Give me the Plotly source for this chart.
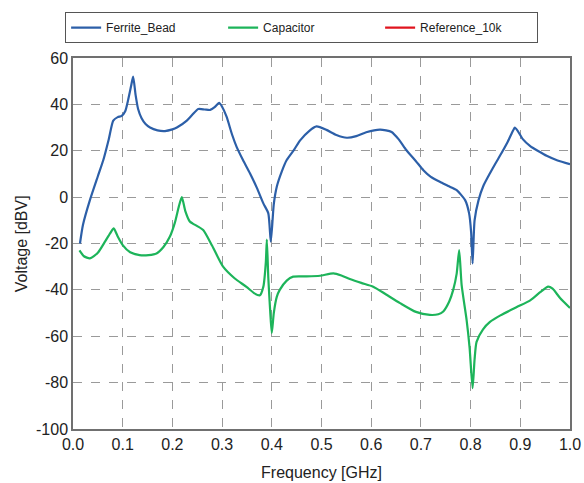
import plotly.graph_objects as go

# Ferrite_Bead trace (frequency GHz, voltage dBV)
fb_x = [0.014, 0.02, 0.034, 0.05, 0.061, 0.072, 0.081, 0.09, 0.098, 0.105, 0.111, 0.117, 0.121,
        0.126, 0.131, 0.138, 0.146, 0.155, 0.17, 0.185, 0.2, 0.209, 0.229, 0.24, 0.252, 0.265,
        0.276, 0.285, 0.294, 0.3, 0.309, 0.32, 0.329, 0.342, 0.356, 0.37, 0.383, 0.393, 0.398,
        0.404, 0.41, 0.42, 0.43, 0.445, 0.457, 0.475, 0.49, 0.51, 0.53, 0.551, 0.57, 0.59, 0.618,
        0.641, 0.655, 0.671, 0.69, 0.705, 0.72, 0.738, 0.755, 0.772, 0.789, 0.797, 0.801, 0.804,
        0.808, 0.816, 0.826, 0.839, 0.85, 0.862, 0.875, 0.885, 0.889, 0.895, 0.905, 0.92, 0.935,
        0.953, 0.975, 1.0]
fb_y = [-20, -12, -1.3, 9, 16, 25, 33, 34.5, 35, 37, 42, 48, 52,
        44, 38, 34, 31.5, 30, 28.8, 28.5, 29.2, 30, 33, 35.5, 38, 37.8,
        37.6, 38.8, 40.7, 39, 34.7, 27, 21.8, 16, 10.3, 4, -2.7, -7, -19.2,
        -3, 4.5, 11, 16, 20.5, 24.5, 28.5, 30.5, 29, 26.8, 25.6, 26.3, 28, 29.1,
        28.1, 25, 20.2, 15.5, 11.6, 8.7, 6.6, 4.8, 3, -1.3, -7, -15, -28.6,
        -10, -1.3, 5, 10.3, 14.5, 18.9, 24, 28.5, 30, 28.5, 25, 22, 20,
        17.8, 15.8, 14.2]

# Capacitor trace
cap_x = [0.013, 0.022, 0.034, 0.05, 0.065, 0.075, 0.082, 0.09, 0.1, 0.115, 0.134, 0.152, 0.168,
         0.182, 0.195, 0.205, 0.213, 0.219, 0.226, 0.235, 0.241, 0.25, 0.262, 0.28, 0.302, 0.325,
         0.349, 0.365, 0.376, 0.383, 0.388, 0.39, 0.393, 0.397, 0.4, 0.404, 0.41, 0.416, 0.43,
         0.443, 0.47, 0.497, 0.524, 0.54, 0.557, 0.58, 0.604, 0.63, 0.658, 0.69, 0.718, 0.735,
         0.745, 0.757, 0.765, 0.772, 0.777, 0.782, 0.792, 0.798, 0.804, 0.808, 0.812, 0.825,
         0.839, 0.86, 0.893, 0.92, 0.94, 0.956, 0.965, 0.98, 1.0]
cap_y = [-23, -25.5, -26.4, -24, -19, -15.5, -13.5, -17, -20.7, -23.8, -25, -25, -24.3,
         -21.5, -17, -11, -4, 0, -6, -10.5, -11.4, -12.5, -14.2, -21, -30, -35,
         -38.7, -41.5, -42.3, -38.6, -28, -18.3, -35, -50, -58.6, -50, -43, -40, -36,
         -34.3, -34.2, -33.9, -32.9, -33.8, -35.3, -37, -38.6, -42, -45.7, -49.5, -50.8, -50.5,
         -49.3, -45, -40, -33, -22.8, -38, -53, -65, -82.4, -70, -62.4, -57,
         -53.8, -51, -47.4, -44.5, -41, -38.6, -39.5, -43.5, -47.8]

series_names = ["Ferrite_Bead", "Capacitor", "Reference_10k"]
series_colors = ["#2c5fa8", "#1db45a", "#e0141e"]

y_tick_vals = [60, 40, 20, 0, -20, -40, -60, -80, -100]
y_tick_text = ["60", "40", "20", "0", "-20", "-40", "-60", "-80", "-100"]
x_tick_vals = [0.0, 0.1, 0.2, 0.3, 0.4, 0.5, 0.6, 0.7, 0.8, 0.9, 1.0]
x_tick_text = ["0.0", "0.1", "0.2", "0.3", "0.4", "0.5", "0.6", "0.7", "0.8", "0.9", "1.0"]
x_title = "Frequency [GHz]"
y_title = "Voltage [dBV]"

fig = go.Figure()
fig.add_trace(go.Scatter(x=fb_x, y=fb_y, mode="lines", name=series_names[0],
                         line=dict(color=series_colors[0], width=2.2, shape="spline", smoothing=0.6)))
fig.add_trace(go.Scatter(x=cap_x, y=cap_y, mode="lines", name=series_names[1],
                         line=dict(color=series_colors[1], width=2.2, shape="spline", smoothing=0.6)))
fig.add_trace(go.Scatter(x=[None], y=[None], mode="lines", name=series_names[2],
                         line=dict(color=series_colors[2], width=2.2)))

font_main = "Liberation Sans, Arial"
grid = dict(showgrid=True, gridcolor="#9a9a9a", griddash="dash", gridwidth=1,
            showline=True, linecolor="#707070", linewidth=1.5, mirror=True,
            zeroline=False, ticks="", tickfont=dict(family=font_main, size=16, color="#222"))

fig.update_xaxes(range=[0, 1.0], tickmode="array", tickvals=x_tick_vals, ticktext=x_tick_text,
                 title=dict(text=x_title, font=dict(family=font_main, size=16, color="#222")),
                 **grid)
fig.update_yaxes(range=[-100, 60], tickmode="array", tickvals=y_tick_vals, ticktext=y_tick_text,
                 **grid)

fig.add_annotation(text=y_title, xref="paper", yref="paper", x=-0.103, y=0.5,
                   xanchor="center", yanchor="middle", textangle=-90, showarrow=False,
                   font=dict(family=font_main, size=16, color="#222"))

fig.update_layout(
    width=584, height=483,
    margin=dict(l=73, r=14, t=58, b=54, autoexpand=False),
    paper_bgcolor="white", plot_bgcolor="white",
    legend=dict(orientation="h", x=0.46, xanchor="center", y=1.04, yanchor="bottom",
                bordercolor="#555", borderwidth=1, bgcolor="white",
                font=dict(family=font_main, size=12, color="#222"),
                entrywidth=112, entrywidthmode="pixels"),
    showlegend=True,
)

fig.write_html("out.html")
